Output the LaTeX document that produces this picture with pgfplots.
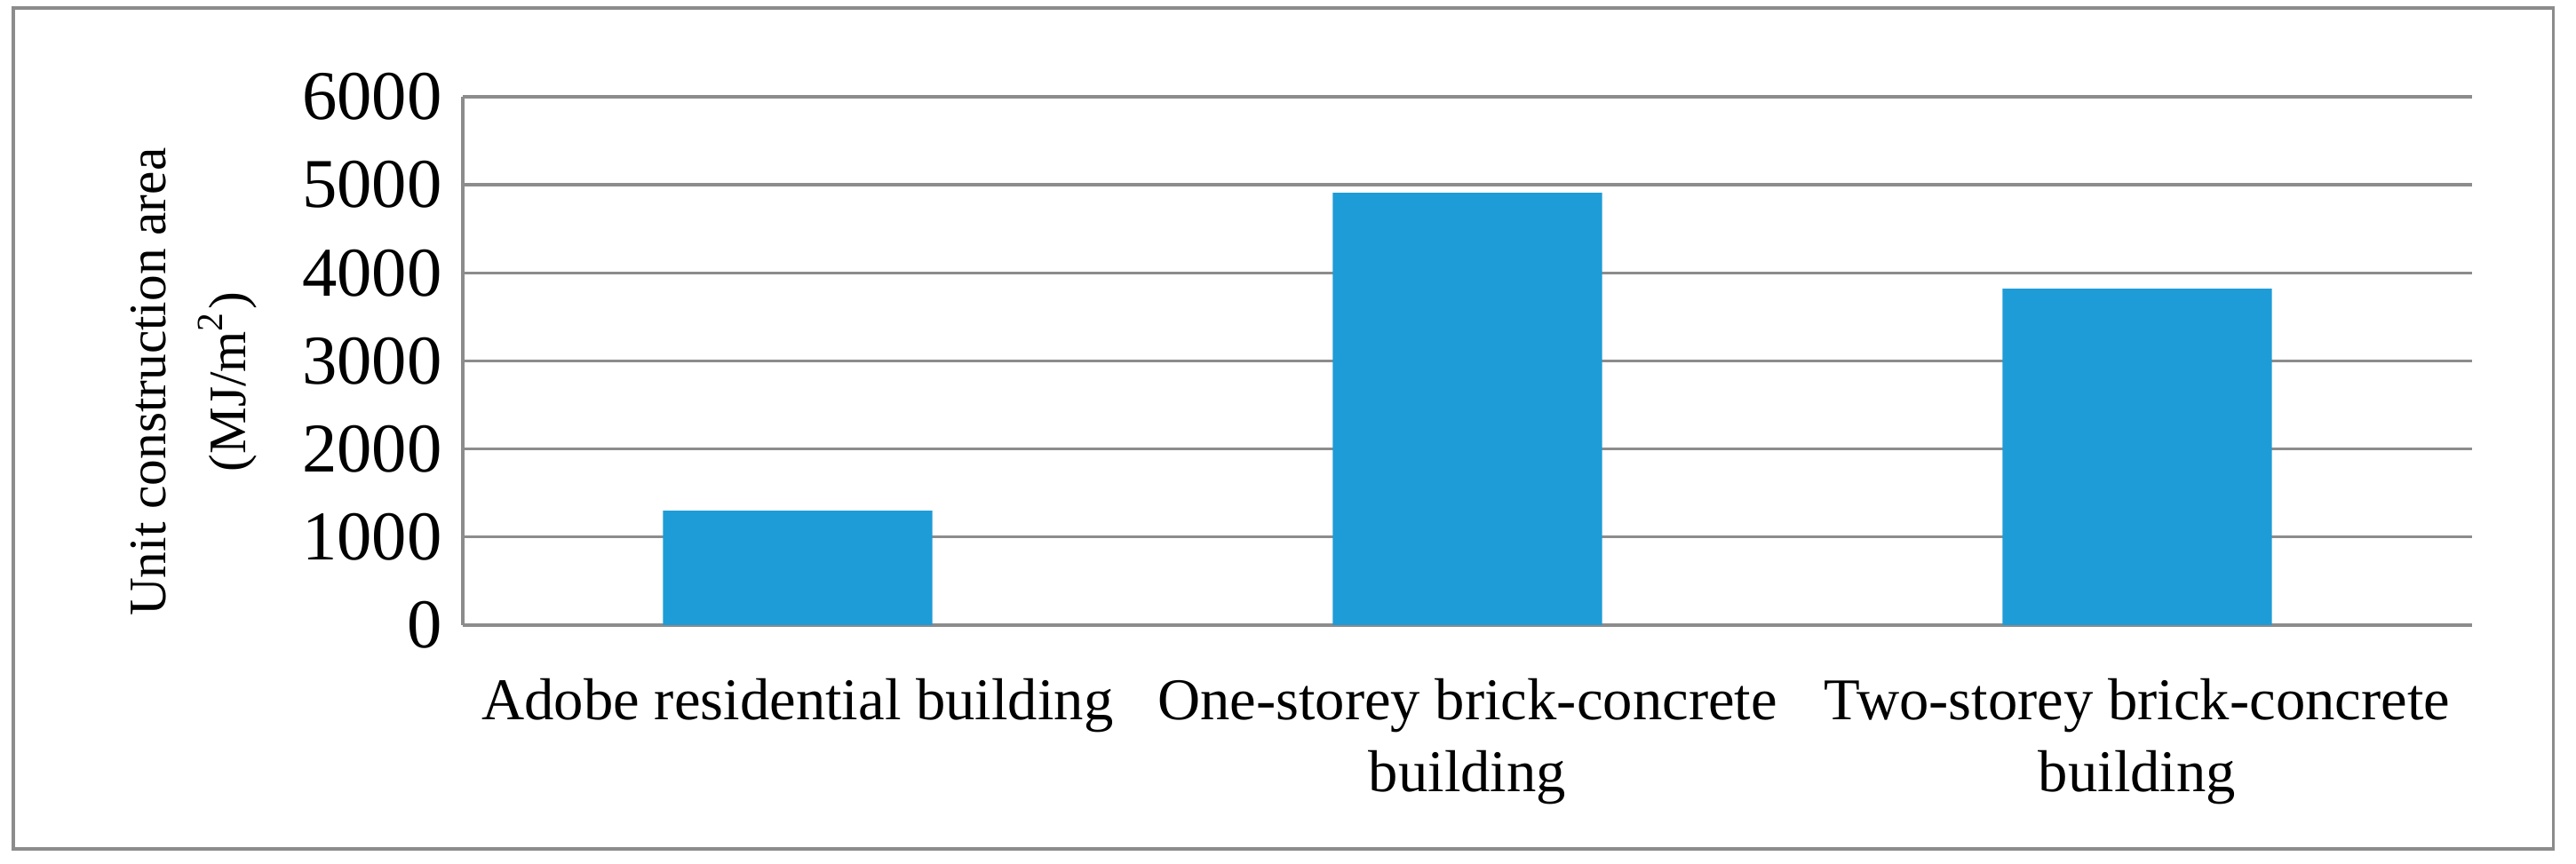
\documentclass[border=0pt]{standalone}
\usepackage{fontspec}
\setmainfont{Liberation Serif}
\usepackage{pgfplots}
\pgfplotsset{compat=1.18}
\definecolor{barblue}{RGB}{30,156,215}
\definecolor{gridgray}{RGB}{140,140,140}

\begin{document}
\begin{tikzpicture}
\path[use as bounding box] (-78.15pt,-40.35pt) rectangle (356.85pt,105.6pt);
\draw[gridgray, line width=0.5pt] (-75.9pt,-37.8pt) rectangle (353pt,104.25pt);
\begin{axis}[
  at={(0pt,0pt)}, anchor=south west,
  scale only axis, width=339.3pt, height=89.25pt,
  ybar, bar width=45.5pt,
  xmin=-0.5, xmax=2.5, ymin=0, ymax=6000,
  xtick=data,
  xticklabels={Adobe residential building,
    One-storey brick-concrete\\building,
    Two-storey brick-concrete\\building},
  ytick={0,1000,...,6000},
  scaled y ticks=false,
  /pgf/number format/1000 sep={},
  /pgf/number format/assume math mode=true,
  axis x line*=bottom, axis y line*=left,
  ymajorgrids, grid style={gridgray, line width=0.5pt},
  axis line style={gridgray, line width=0.5pt},
  major tick length=0pt,
  yticklabel style={font=\fontsize{11.8}{12}\selectfont},
  xticklabel style={font=\fontsize{10}{12.2}\selectfont, align=center, yshift=-5.5pt},
  ylabel={Unit construction area\\(MJ/m\textsuperscript{2})},
  ylabel style={font=\fontsize{8.9}{13.5}\selectfont, align=center,
    at={(axis description cs:-0.134,0.46)}, anchor=center},
]
\addplot[fill=barblue, draw=none] coordinates {(0,1300) (1,4910) (2,3820)};
\end{axis}
\end{tikzpicture}
\end{document}
